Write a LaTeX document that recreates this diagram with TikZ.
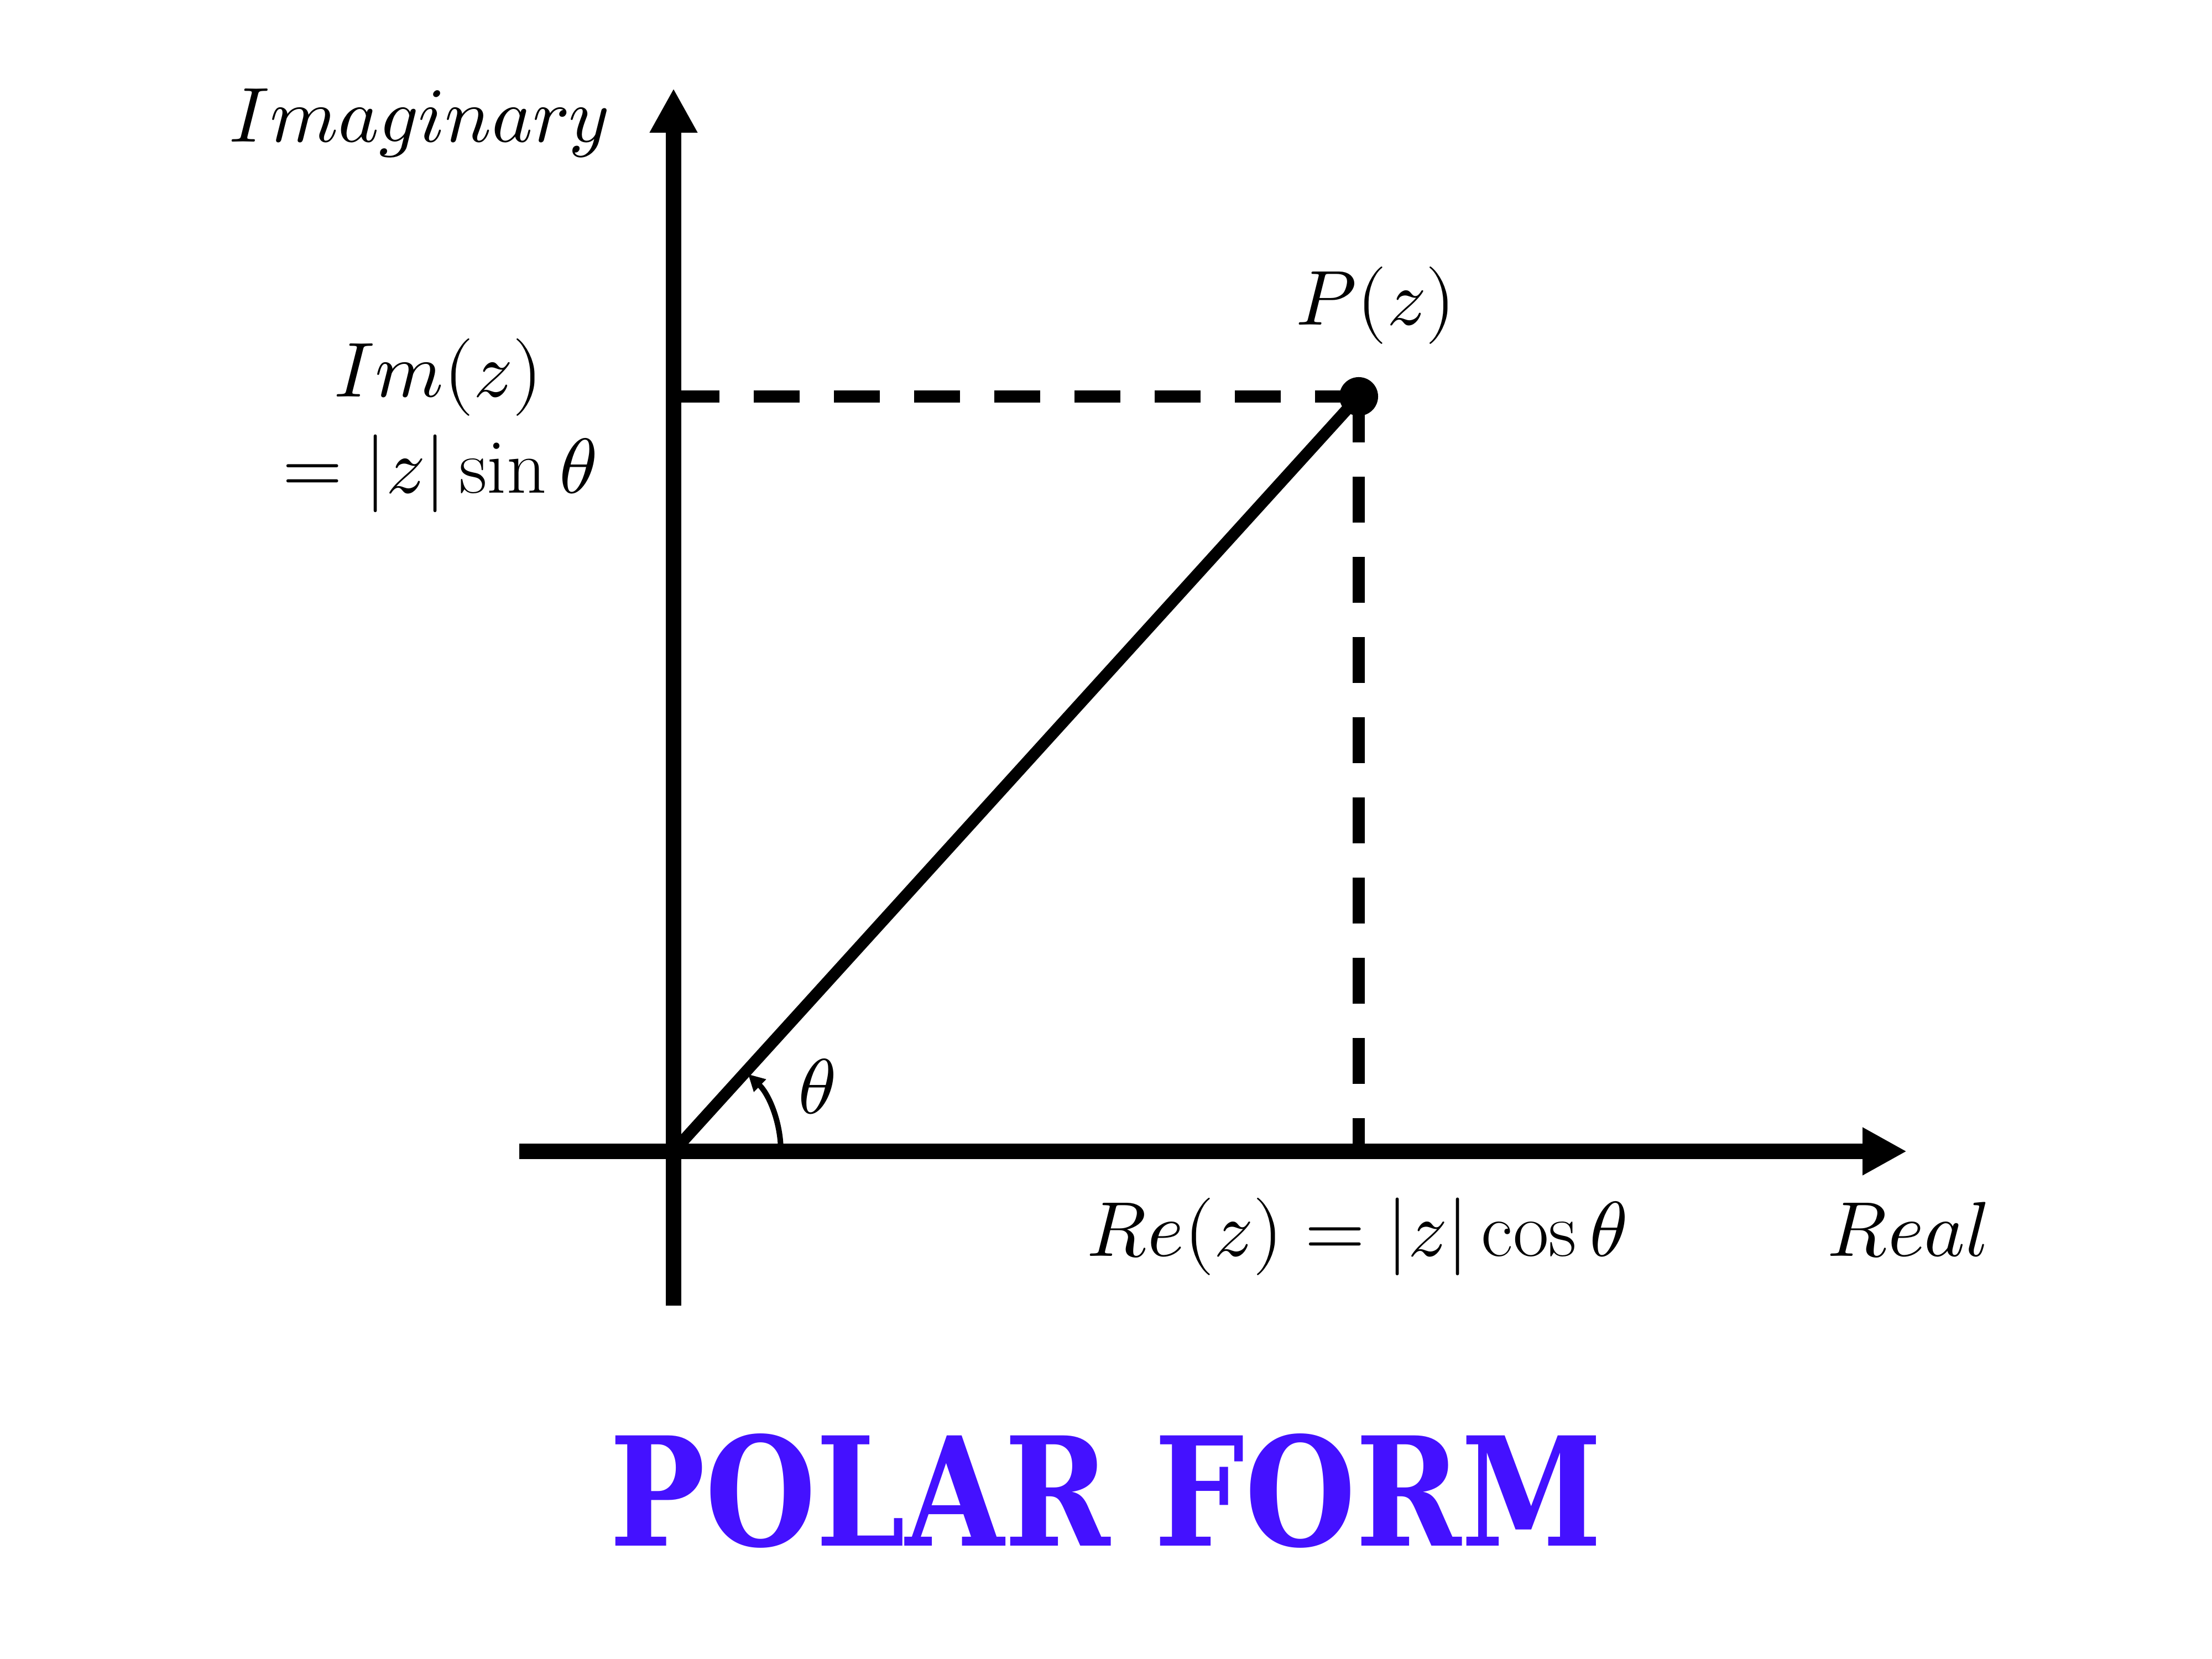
\documentclass[tikz,border=0pt]{standalone}
\usepackage{fontspec}
\usepackage{unicode-math}
\setmathfont{Latin Modern Math}
\usepackage{graphicx}
\usetikzlibrary{arrows.meta}
\newfontfamily\titlefont{DejaVu Serif}
\definecolor{titleblue}{RGB}{68,17,255}

\begin{document}
\begin{tikzpicture}[
    axis/.style={line width=0.28cm, -{Triangle[length=0.8cm, width=0.81cm]}},
    proj/.style={line width=0.215cm, dash pattern=on 0.83cm off 0.62cm},
    modline/.style={line width=0.21cm},
    lbl/.style={font=\fontsize{40}{48}\selectfont, inner sep=0pt},
  ]
  \useasboundingbox (0,0) rectangle (40,30);
  % axes
  \coordinate (O) at (12.18,9.18);
  \coordinate (xmin) at (9.39,9.18);
  \coordinate (xmax) at (34.48,9.18);
  \coordinate (ymin) at (12.18,6.39);
  \coordinate (ymax) at (12.18,28.40);
  \coordinate (P) at (24.57,22.83);
  \draw[axis] (xmin) -- (xmax);
  \draw[axis] (ymin) -- (ymax);
  % projections of P
  \draw[proj] (O |- P) -- (P);
  \draw[proj] (P) -- (P |- O);
  \draw[modline] (O) -- (P);
  \fill (P) circle (0.35);
  % angle
  \draw[line width=0.1cm, -{Triangle[length=0.3cm, width=0.3cm]}]
    ([shift={(0:1.94)}]O) arc[start angle=0, end angle=46, radius=1.94];
  % labels
  \node[lbl, anchor=base] (imag) at (7.58,27.43) {$Imaginary$};
  \node[lbl, anchor=base] (real) at (34.50,7.28) {$Real$};
  \node[lbl, anchor=base] (pz) at (24.88,24.12) {$P(z)$};
  \node[lbl, anchor=base] (imz) at (7.93,22.82) {$Im(z)$};
  \node[lbl, anchor=base] (imeq) at (7.95,21.08) {$=|z|\sin\theta$};
  \node[lbl, anchor=base] (rez) at (24.54,7.28) {$Re(z)=|z|\cos\theta$};
  \node[lbl] (theta) at (14.77,10.35) {$\theta$};
  % title
  \node[inner sep=0pt, text=titleblue] (title) at (20.00,3.045)
    {\resizebox{17.95cm}{2.03cm}{\titlefont\bfseries POLAR FORM}};
\end{tikzpicture}
\end{document}
